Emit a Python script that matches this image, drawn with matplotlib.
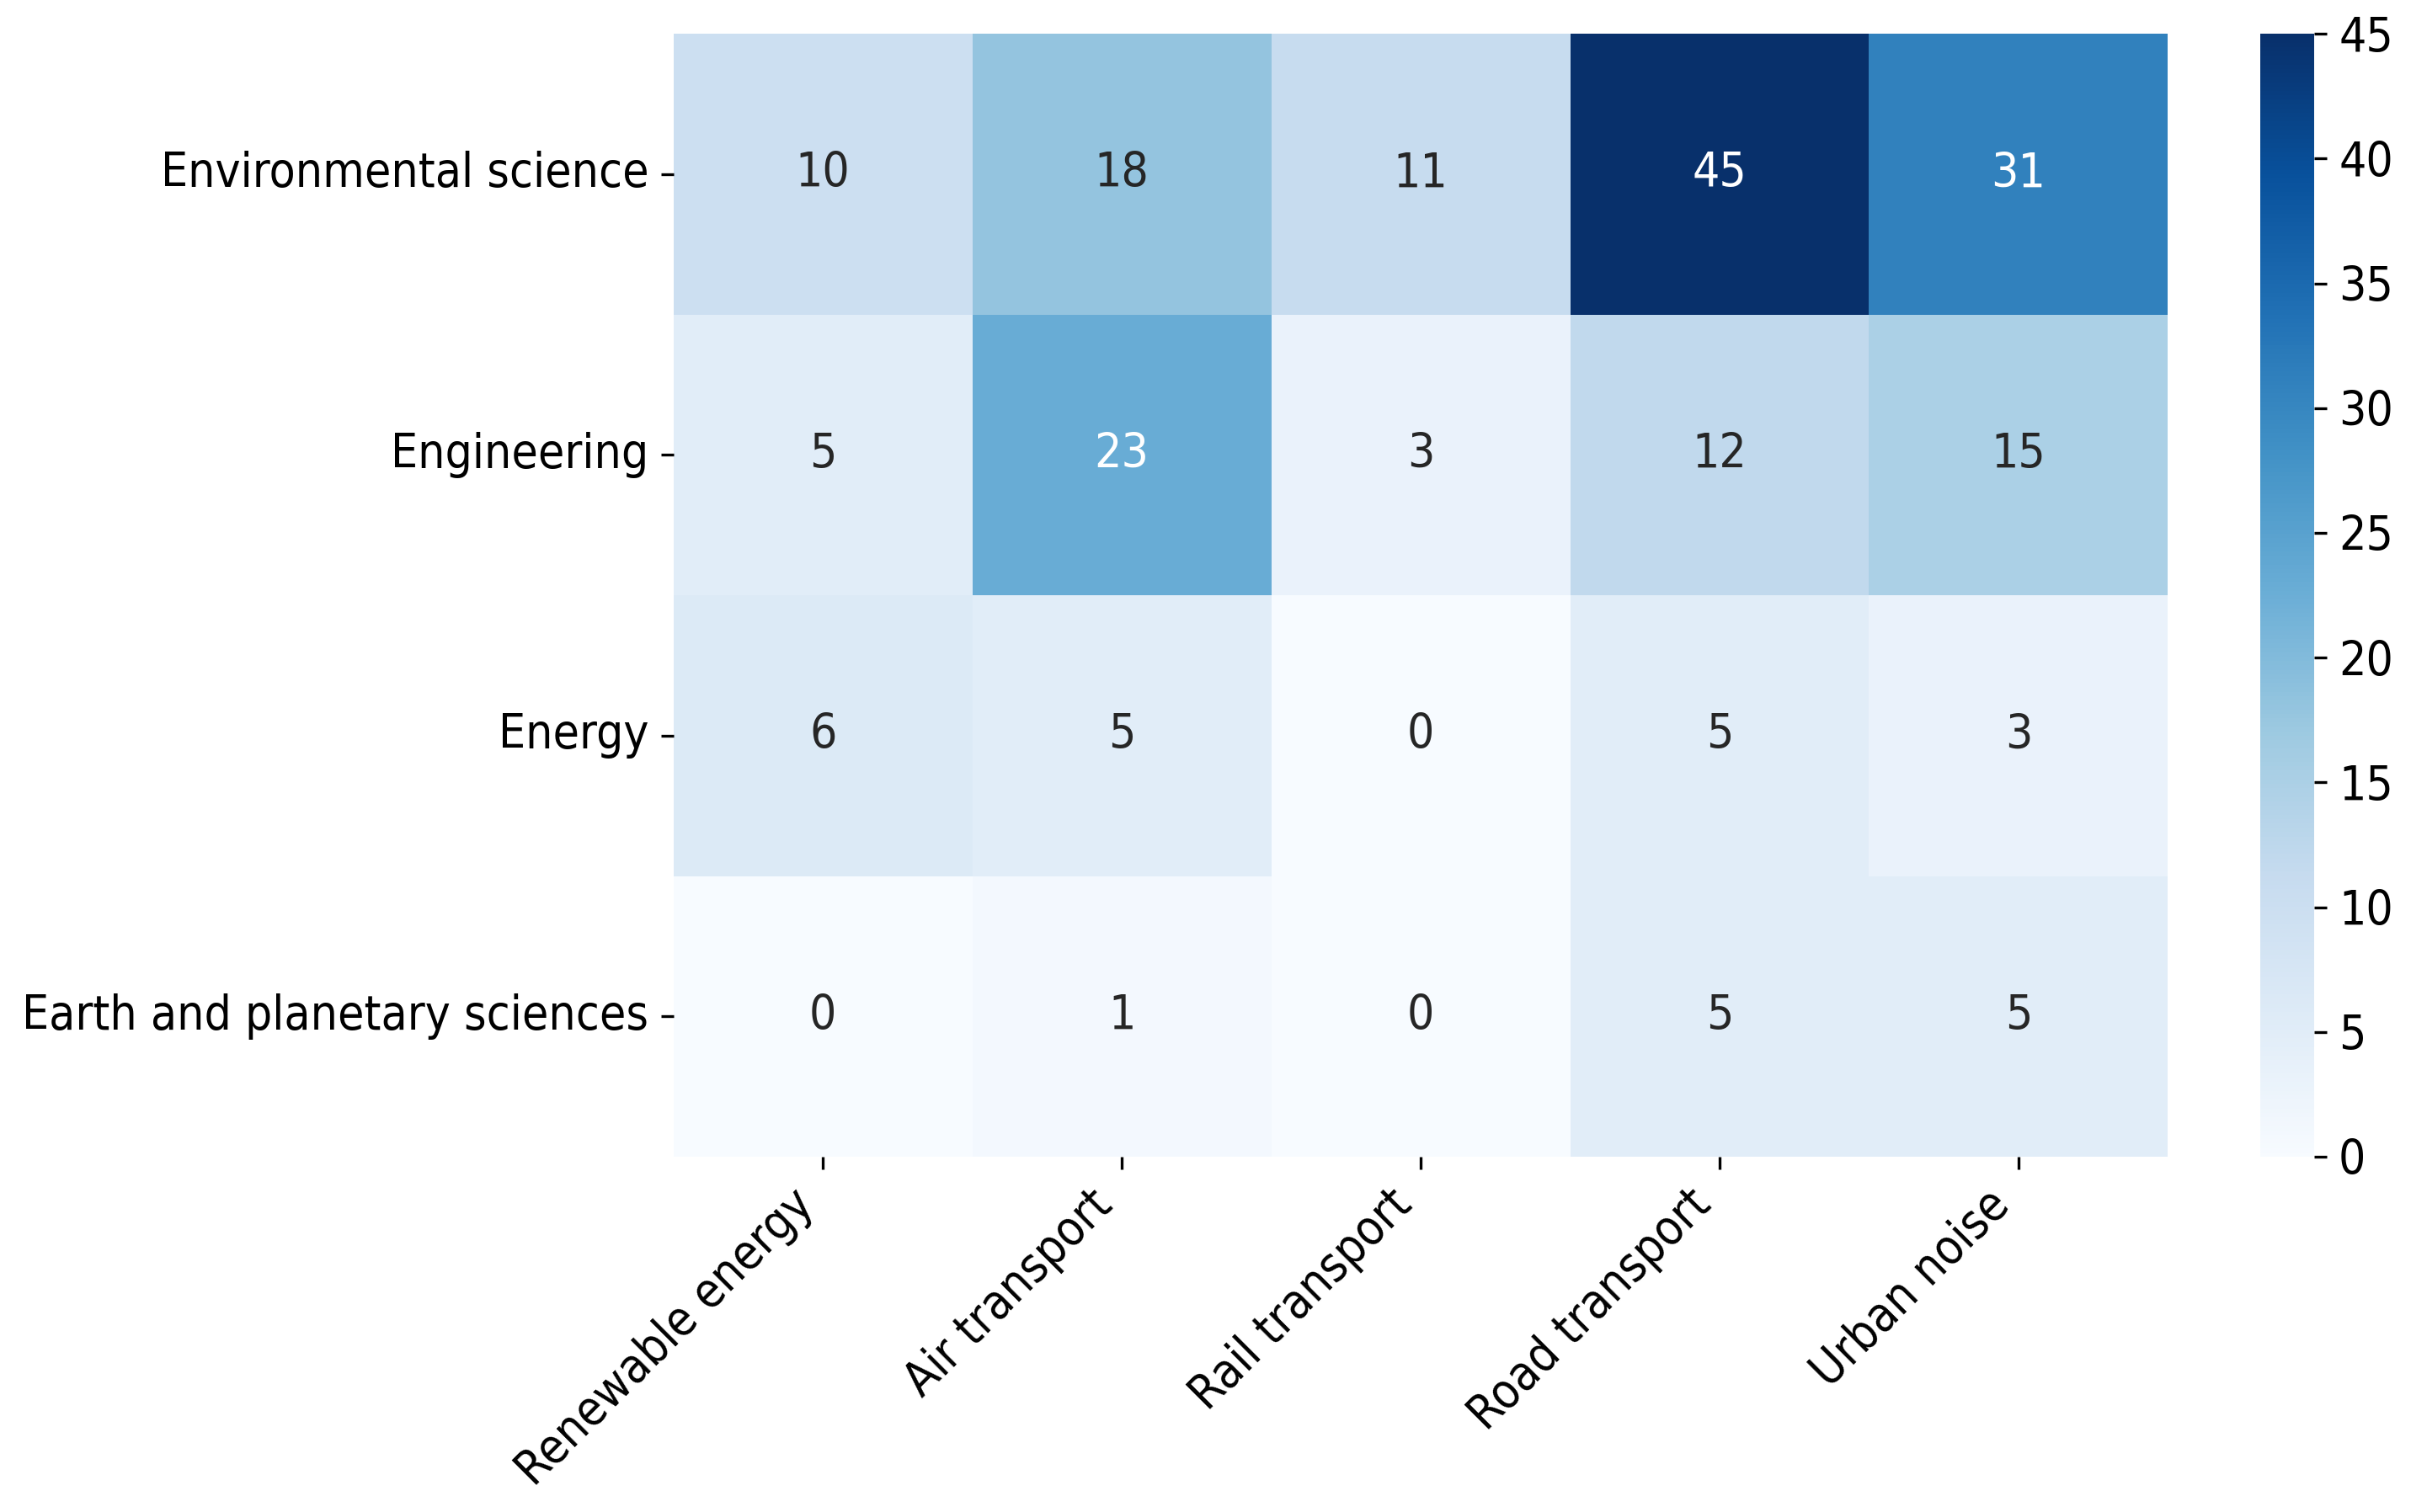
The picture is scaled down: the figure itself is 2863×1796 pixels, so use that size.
import matplotlib
matplotlib.use("Agg")
import matplotlib.pyplot as plt
import seaborn as sns
import numpy as np
import pandas as pd
from matplotlib import font_manager as fm

rows = ["Environmental science", "Engineering", "Energy", "Earth and planetary sciences"]
cols = ["Renewable energy", "Air transport", "Rail transport", "Road transport", "Urban noise"]
env_sci = [10, 18, 11, 45, 31]
engineering = [5, 23, 3, 12, 15]
energy = [6, 5, 0, 5, 3]
earth = [0, 1, 0, 5, 5]

df = pd.DataFrame([env_sci, engineering, energy, earth], index=rows, columns=cols)

cond = [f for f in fm.fontManager.ttflist if f.name == 'DejaVu Sans' and f.stretch == 'condensed' and f.style == 'normal' and f.weight in (400, 'normal')]
plt.rcParams['font.family'] = ['DejaVu Sans']
if cond:
    plt.rcParams['font.stretch'] = 'condensed'
    fs = 13.6
else:
    fs = 12.3

fig = plt.figure(figsize=(2863/300, 1796/300), dpi=300)
ax = fig.add_axes([0.2793, 0.235, 0.6199, 0.7426])
cax = fig.add_axes([0.9375, 0.235, 0.0223, 0.7426])
sns.heatmap(df, ax=ax, cbar_ax=cax, cmap="Blues", vmin=0, vmax=45, annot=True, fmt="d",
            annot_kws={"fontsize": fs})
ax.tick_params(axis='both', labelsize=fs)
ax.set_xticklabels(cols, rotation=45, ha='right')
ax.set_yticklabels(rows, rotation=0)
cax.tick_params(labelsize=fs)
cax.set_yticks([0, 5, 10, 15, 20, 25, 30, 35, 40, 45])
fig.savefig("out.png", dpi=300)
